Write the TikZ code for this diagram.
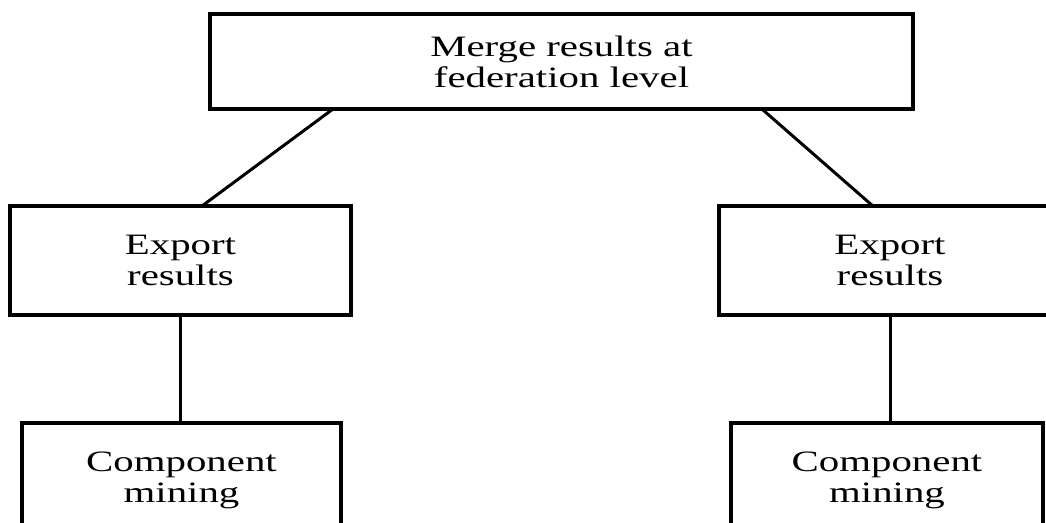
\documentclass[tikz,border=0pt]{standalone}
\usepackage{fontspec}
\newfontfamily\boxfont[FakeStretch=1.38]{Liberation Serif}
\usetikzlibrary{calc}
\begin{document}
\begin{tikzpicture}[x=0.5pt,y=-0.5pt,
  box/.style={draw, line width=1.7pt, rectangle, inner sep=0pt, outer sep=0pt,
    align=center, font=\boxfont\fontsize{14.8}{15.5}\selectfont},
  link/.style={line width=1.5pt}]
\useasboundingbox (0,0) rectangle (1046,523);
\clip (0,0) rectangle (1046,523);
\node[box, minimum width=351.5pt, minimum height=47.5pt] (top) at (561.5,61.5) {Merge results at\\federation level};
\node[box, minimum width=170.5pt, minimum height=54.5pt] (ml) at (180.5,260.5) {Export\\results};
\node[box, minimum width=171pt, minimum height=54.5pt] (mr) at (890,260.5) {Export\\results};
\node[box, minimum width=159.5pt, minimum height=57.5pt] (bl) at (181.5,480.5) {Component\\mining};
\node[box, minimum width=156pt, minimum height=57.5pt] (br) at (887,480.5) {Component\\mining};
\draw[link] ($(top.south west)!0.175!(top.south east)$) -- ($(ml.north west)!0.563!(ml.north east)$);
\draw[link] ($(top.south west)!0.785!(top.south east)$) -- ($(mr.north west)!0.45!(mr.north east)$);
\draw[link] (ml.south) -- (ml.south |- bl.north);
\draw[link] (mr.south) -- (mr.south |- br.north);
\end{tikzpicture}
\end{document}
